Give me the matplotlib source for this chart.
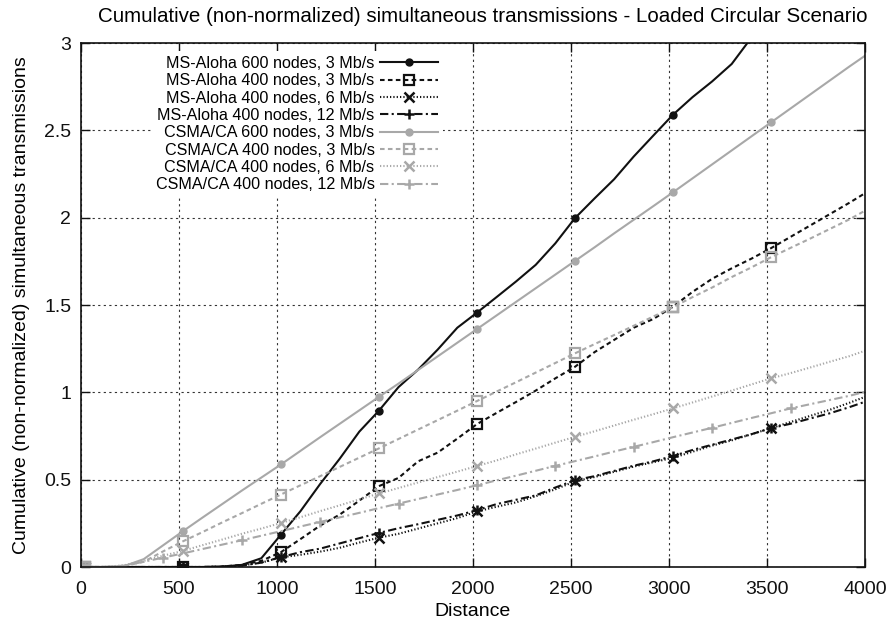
import matplotlib
matplotlib.use("Agg")
import matplotlib.pyplot as plt
import numpy as np

plt.rcParams['font.family'] = ['Liberation Sans', 'DejaVu Sans']

distance = [20, 120, 220, 320, 420, 520, 620, 720, 820, 920,
            1020, 1120, 1220, 1320, 1420, 1520, 1620, 1720, 1820, 1920,
            2020, 2120, 2220, 2320, 2420, 2520, 2620, 2720, 2820, 2920,
            3020, 3120, 3220, 3320, 3420, 3520, 3620, 3720, 3820, 3920, 4000]

msaloha_600_3 = [0, 0, 0, 0, 0, 0, 0, 0.002, 0.012, 0.05,
                 0.185, 0.32, 0.475, 0.62, 0.775, 0.895, 1.03, 1.13, 1.245, 1.37,
                 1.456, 1.545, 1.635, 1.73, 1.853, 1.997, 2.11, 2.22, 2.35, 2.47,
                 2.589, 2.69, 2.78, 2.88, 3.03]

msaloha_400_3 = [0, 0, 0, 0, 0, 0, 0, 0.003, 0.012, 0.035,
                 0.085, 0.16, 0.237, 0.3, 0.38, 0.463, 0.51, 0.605, 0.655, 0.735,
                 0.818, 0.882, 0.945, 1.01, 1.08, 1.146, 1.23, 1.3, 1.37, 1.42,
                 1.49, 1.575, 1.65, 1.71, 1.765, 1.825, 1.89, 1.955, 2.02, 2.085, 2.14]

msaloha_400_6 = [0, 0, 0, 0, 0, 0, 0, 0.002, 0.008, 0.025,
                 0.055, 0.07, 0.088, 0.11, 0.14, 0.168, 0.19, 0.22, 0.25, 0.28,
                 0.318, 0.345, 0.37, 0.405, 0.445, 0.49, 0.515, 0.545, 0.575, 0.6,
                 0.625, 0.66, 0.695, 0.725, 0.76, 0.795, 0.83, 0.865, 0.9, 0.94, 0.974]

msaloha_400_12 = [0, 0, 0, 0, 0, 0, 0, 0.002, 0.008, 0.025,
                  0.057, 0.085, 0.105, 0.135, 0.165, 0.195, 0.222, 0.245, 0.27, 0.295,
                  0.325, 0.36, 0.385, 0.41, 0.455, 0.497, 0.52, 0.55, 0.58, 0.605,
                  0.635, 0.67, 0.7, 0.73, 0.76, 0.795, 0.82, 0.85, 0.88, 0.915, 0.946]

csma_600_3 = [0, 0, 0.005, 0.045, 0.125, 0.205, 0.283, 0.36, 0.437, 0.512,
              0.587, 0.665, 0.743, 0.82, 0.897, 0.974, 1.05, 1.128, 1.206, 1.284,
              1.362, 1.44, 1.518, 1.596, 1.674, 1.752, 1.83, 1.91, 1.988, 2.066,
              2.145, 2.225, 2.305, 2.385, 2.465, 2.545, 2.625, 2.705, 2.785, 2.865, 2.927]

csma_400_3 = [0, 0, 0.005, 0.03, 0.09, 0.147, 0.2, 0.255, 0.308, 0.362,
              0.415, 0.468, 0.52, 0.573, 0.626, 0.679, 0.733, 0.787, 0.841, 0.895,
              0.95, 1.004, 1.058, 1.113, 1.168, 1.223, 1.276, 1.328, 1.381, 1.434,
              1.488, 1.545, 1.6, 1.66, 1.715, 1.773, 1.827, 1.88, 1.935, 1.99, 2.04]

csma_400_6 = [0, 0, 0.01, 0.035, 0.065, 0.092, 0.125, 0.157, 0.19, 0.22,
              0.252, 0.285, 0.32, 0.353, 0.387, 0.421, 0.452, 0.484, 0.515, 0.546,
              0.578, 0.61, 0.645, 0.678, 0.712, 0.745, 0.777, 0.81, 0.843, 0.875,
              0.908, 0.942, 0.976, 1.01, 1.045, 1.08, 1.11, 1.142, 1.175, 1.207, 1.238]

csma_400_12 = [0, 0, 0.008, 0.03, 0.054, 0.078, 0.103, 0.128, 0.153, 0.179,
               0.205, 0.232, 0.258, 0.284, 0.31, 0.337, 0.363, 0.389, 0.415, 0.441,
               0.468, 0.496, 0.523, 0.551, 0.579, 0.606, 0.633, 0.661, 0.688, 0.715,
               0.743, 0.77, 0.797, 0.825, 0.853, 0.88, 0.908, 0.932, 0.956, 0.98, 1.003]

labels = ["MS-Aloha 600 nodes, 3 Mb/s", "MS-Aloha 400 nodes, 3 Mb/s",
          "MS-Aloha 400 nodes, 6 Mb/s", "MS-Aloha 400 nodes, 12 Mb/s",
          "CSMA/CA 600 nodes, 3 Mb/s", "CSMA/CA 400 nodes, 3 Mb/s",
          "CSMA/CA 400 nodes, 6 Mb/s", "CSMA/CA 400 nodes, 12 Mb/s"]

x_ticks = [0, 500, 1000, 1500, 2000, 2500, 3000, 3500, 4000]
y_ticks = [0, 0.5, 1, 1.5, 2, 2.5, 3]
y_ticklabels = ["0", "0.5", "1", "1.5", "2", "2.5", "3"]

BLACK = "#111111"
GRAY = "#a8a8a8"

fig = plt.figure(figsize=(8.9, 6.26), dpi=100)
ax = fig.add_axes([81 / 890, 1 - 567 / 626, (865 - 81) / 890, (567 - 43) / 626])

series = [
    (msaloha_600_3, BLACK, '-', 'o', dict(ms=5, mfc=BLACK), 5),
    (msaloha_400_3, BLACK, (0, (2.2, 1.6)), 's', dict(ms=6.5, mfc='none', mew=1.6), 5),
    (msaloha_400_6, BLACK, (0, (0.6, 1.0)), 'x', dict(ms=6.5, mew=1.8), 5),
    (msaloha_400_12, BLACK, (0, (4, 1.6, 1, 1.6)), '+', dict(ms=7.5, mew=1.8), 5),
    (csma_600_3, GRAY, '-', 'o', dict(ms=5, mfc=GRAY), 5),
    (csma_400_3, GRAY, (0, (2.2, 1.6)), 's', dict(ms=6.5, mfc='none', mew=1.6), 5),
    (csma_400_6, GRAY, (0, (0.6, 1.0)), 'x', dict(ms=6.5, mew=1.8), 5),
    (csma_400_12, GRAY, (0, (4, 1.6, 1, 1.6)), '+', dict(ms=7.5, mew=1.8), 4),
]

for (vals, col, ls, mk, mkw, step), lab in zip(series, labels):
    xs = distance[:len(vals)]
    ax.plot(xs, vals, color=col, linestyle=ls, lw=1.5, marker=mk,
            mec=col, markevery=slice(0, 40, step), label=lab, **mkw)

ax.set_xlim(0, 4000)
ax.set_ylim(0, 3)
ax.set_xticks(x_ticks)
ax.set_yticks(y_ticks)
ax.set_yticklabels(y_ticklabels)
ax.tick_params(direction='in', length=6.5, width=1.0, top=True, right=True,
               labelsize=14, colors=BLACK)
ax.tick_params(axis='x', pad=10)
ax.tick_params(axis='y', pad=7)
ax.grid(True, color='#333333', linestyle=(0, (2, 3)), lw=0.8)
for sp in ax.spines.values():
    sp.set_linewidth(1.2)
    sp.set_color(BLACK)

ax.set_xlabel("Distance", fontsize=14, labelpad=4)
ax.set_ylabel("Cumulative (non-normalized) simultaneous transmissions", fontsize=14, labelpad=10)
ax.set_title("Cumulative (non-normalized) simultaneous transmissions - Loaded Circular Scenario",
             fontsize=14.8, pad=15, x=(483 - 81) / 784)

# opaque key box, text right-aligned before the line samples
leg = ax.legend(loc='upper right', bbox_to_anchor=(443 / 890, 1 - 51 / 626),
                bbox_transform=fig.transFigure, frameon=True, fancybox=False,
                facecolor='white', edgecolor='none', framealpha=1.0,
                markerfirst=False, fontsize=11.6, handlelength=3.6,
                handletextpad=0.35, labelspacing=0.145, borderpad=0.3,
                borderaxespad=0)
leg.set_zorder(5)

fig.savefig("out.png", dpi=100)
